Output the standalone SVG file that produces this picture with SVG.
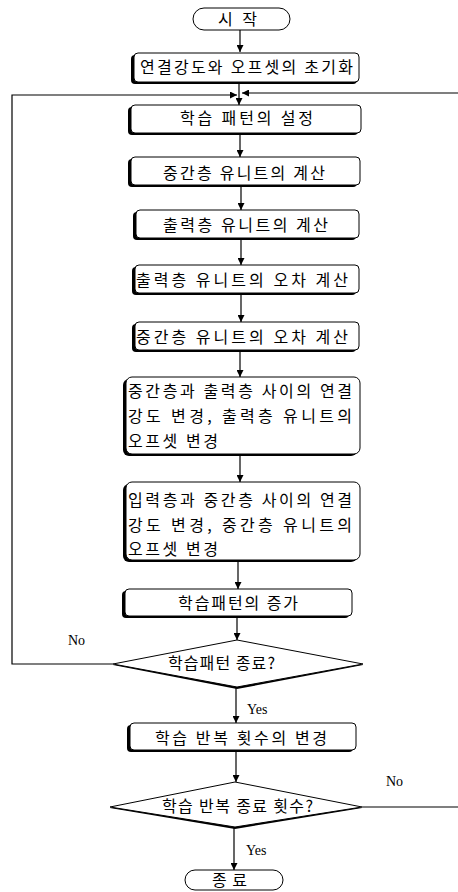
<svg xmlns="http://www.w3.org/2000/svg" width="458" height="892" viewBox="0 0 458 892">
<defs>
<marker id="ah" viewBox="0 0 8 8" refX="8" refY="4" markerWidth="7" markerHeight="7" markerUnits="userSpaceOnUse" orient="auto">
<path d="M0,0 L8,4 L0,8 Z" fill="#000"/>
</marker>
</defs>
<style>
.box{fill:#fff;stroke:#000;stroke-width:1}
.sh{fill:#000}
.t{font-family:"Noto Sans CJK KR","Noto Sans",sans-serif;font-size:16px;fill:#000}
.l{font-family:"Liberation Serif",serif;font-size:14px;fill:#000}
.c{fill:none;stroke:#000;stroke-width:1.2}
</style>
<rect width="458" height="892" fill="#fff"/>
<g id="connectors">
<path class="c" d="M240,30 V52" marker-end="url(#ah)"/>
<path class="c" d="M239,82 V105" marker-end="url(#ah)"/>
<path class="c" d="M113,664 H12 V95 H237" marker-end="url(#ah)"/>
<path class="c" d="M362,807 H470 V93 H242" marker-end="url(#ah)"/>
<path class="c" d="M240,133 V157" marker-end="url(#ah)"/>
<path class="c" d="M241,185 V210" marker-end="url(#ah)"/>
<path class="c" d="M241,238 V265" marker-end="url(#ah)"/>
<path class="c" d="M241,293 V322" marker-end="url(#ah)"/>
<path class="c" d="M240,350 V377" marker-end="url(#ah)"/>
<path class="c" d="M240,455 V482" marker-end="url(#ah)"/>
<path class="c" d="M238,562 V589" marker-end="url(#ah)"/>
<path class="c" d="M237,617 V640" marker-end="url(#ah)"/>
<path class="c" d="M236,687 V723" marker-end="url(#ah)"/>
<path class="c" d="M236,751 V782" marker-end="url(#ah)"/>
<path class="c" d="M234,827 V870" marker-end="url(#ah)"/>
<text class="l" x="68" y="645">No</text>
<text class="l" x="247" y="714">Yes</text>
<text class="l" x="386" y="786">No</text>
<text class="l" x="246" y="855">Yes</text>
</g>
<g id="start">
<rect class="box" x="193" y="8" width="97" height="22" rx="11" ry="11"/>
<text class="t" x="218" y="25" textLength="39" lengthAdjust="spacing">시 작</text>
</g>
<g id="init">
<rect class="sh" x="131" y="55" width="226" height="29" rx="4"/>
<rect class="box" x="134" y="53" width="225" height="29" rx="4"/>
<text class="t" x="140" y="73" textLength="213" lengthAdjust="spacing">연결강도와 오프셋의 초기화</text>
</g>
<g id="set-pattern">
<rect class="sh" x="128" y="107" width="230" height="28" rx="4"/>
<rect class="box" x="131" y="105" width="230" height="28" rx="4"/>
<text class="t" x="180" y="124" textLength="133" lengthAdjust="spacing">학습 패턴의 설정</text>
</g>
<g id="hidden-calc">
<rect class="sh" x="128" y="159" width="229" height="28" rx="4"/>
<rect class="box" x="131" y="157" width="229" height="28" rx="4"/>
<text class="t" x="163" y="179" textLength="162" lengthAdjust="spacing">중간층 유니트의 계산</text>
</g>
<g id="output-calc">
<rect class="sh" x="133" y="212" width="223" height="28" rx="4"/>
<rect class="box" x="136" y="210" width="223" height="28" rx="4"/>
<text class="t" x="163" y="231" textLength="165" lengthAdjust="spacing">출력층 유니트의 계산</text>
</g>
<g id="output-error">
<rect class="sh" x="132" y="267" width="224" height="28" rx="4"/>
<rect class="box" x="135" y="265" width="224" height="28" rx="4"/>
<text class="t" x="136" y="286" textLength="212" lengthAdjust="spacing">출력층 유니트의 오차 계산</text>
</g>
<g id="hidden-error">
<rect class="sh" x="132" y="324" width="224" height="28" rx="4"/>
<rect class="box" x="135" y="322" width="224" height="28" rx="4"/>
<text class="t" x="136" y="343" textLength="212" lengthAdjust="spacing">중간층 유니트의 오차 계산</text>
</g>
<g id="update-output">
<rect class="sh" x="123" y="379" width="234" height="77" rx="6"/>
<rect class="box" x="126" y="377" width="234" height="77" rx="6"/>
<text class="t" x="128" y="397" textLength="224" lengthAdjust="spacing">중간층과 출력층 사이의 연결</text>
<text class="t" x="128" y="422" textLength="224" lengthAdjust="spacing">강도 변경, 출력층 유니트의</text>
<text class="t" x="128" y="447" textLength="90" lengthAdjust="spacing">오프셋 변경</text>
</g>
<g id="update-hidden">
<rect class="sh" x="123" y="484" width="234" height="78" rx="6"/>
<rect class="box" x="126" y="482" width="234" height="78" rx="6"/>
<text class="t" x="128" y="506" textLength="224" lengthAdjust="spacing">입력층과 중간층 사이의 연결</text>
<text class="t" x="128" y="531" textLength="224" lengthAdjust="spacing">강도 변경, 중간층 유니트의</text>
<text class="t" x="128" y="555" textLength="90" lengthAdjust="spacing">오프셋 변경</text>
</g>
<g id="next-pattern">
<rect class="sh" x="122" y="591" width="227" height="27" rx="4"/>
<rect class="box" x="125" y="589" width="227" height="27" rx="4"/>
<text class="t" x="178" y="609" textLength="120" lengthAdjust="spacing">학습패턴의 증가</text>
</g>
<g id="pattern-done">
<polygon class="sh" points="237,641 363,665 237,689 113,665"/>
<polygon class="box" points="237,640 363,664 237,687 113,664"/>
<text class="t" x="168" y="669" textLength="107" lengthAdjust="spacing">학습패턴 종료?</text>
</g>
<g id="update-count">
<rect class="sh" x="127" y="725" width="226" height="27" rx="4"/>
<rect class="box" x="130" y="723" width="226" height="27" rx="4"/>
<text class="t" x="155" y="744" textLength="172" lengthAdjust="spacing">학습 반복 횟수의 변경</text>
</g>
<g id="count-done">
<polygon class="sh" points="235,783 362,808 235,829 110,808"/>
<polygon class="box" points="235,782 362,807 235,827 110,807"/>
<text class="t" x="162" y="812" textLength="151" lengthAdjust="spacing">학습 반복 종료 횟수?</text>
</g>
<g id="end">
<rect class="box" x="185" y="870" width="98" height="20" rx="10" ry="10"/>
<text class="t" x="212" y="886" textLength="35" lengthAdjust="spacing">종 료</text>
</g>
</svg>
